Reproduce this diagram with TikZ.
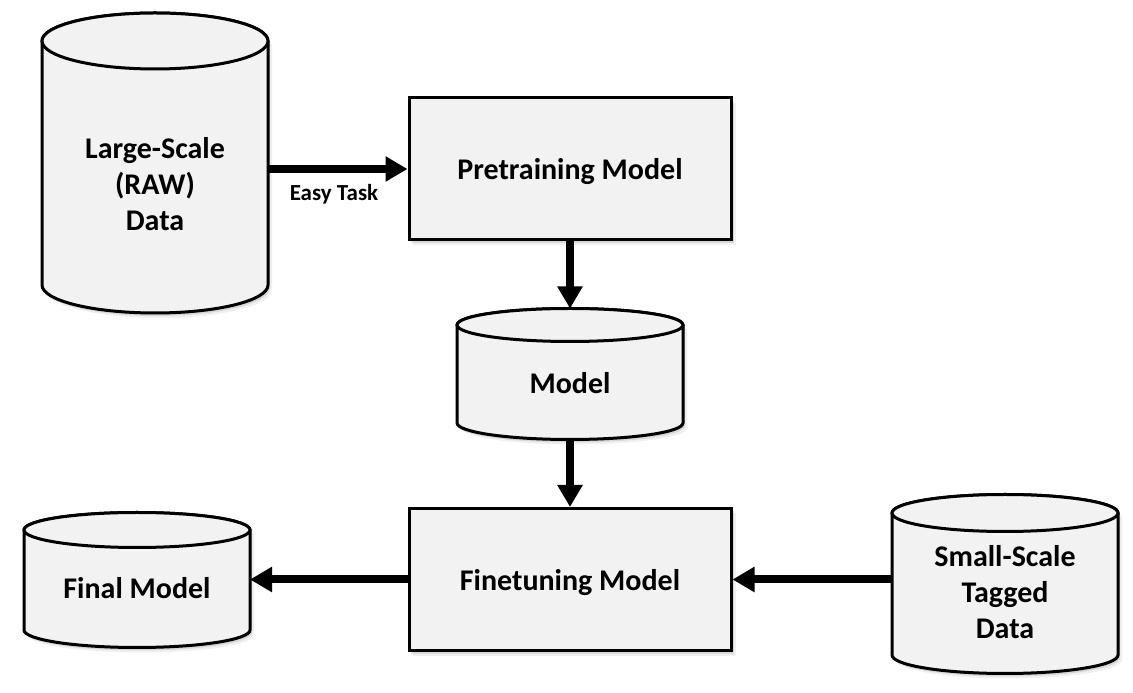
\documentclass[tikz,border=0pt]{standalone}
\usepackage{fontspec}
\setmainfont{Carlito}
\usetikzlibrary{arrows.meta}
\definecolor{boxfill}{RGB}{242,242,242}
\newcommand\cylpath[5]{({#1-#2},#3) -- ({#1-#2},#4) arc[start angle=180,end angle=360,x radius=#2,y radius=#5] -- ({#1+#2},#3) arc[start angle=0,end angle=180,x radius=#2,y radius=#5] -- cycle}
\newcommand\drawcyl[5]{%
  \fill[black,opacity=0.10] [shift={(2,-3)}] \cylpath{#1}{#2}{#3}{#4}{#5};
  \fill[black,opacity=0.06] [shift={(4,-5)}] \cylpath{#1}{#2}{#3}{#4}{#5};
  \draw[shapeline] \cylpath{#1}{#2}{#3}{#4}{#5};
  \draw[shapeline] (#1,#3) ellipse[x radius=#2,y radius=#5];
}
\tikzset{
  shapeline/.style={draw=black,line width=3pt,fill=boxfill},
  procbox/.style={draw=black,line width=3pt,fill=boxfill,minimum width=322pt,minimum height=142pt,inner sep=0pt,
    text depth=0pt,font=\fontsize{30}{36}\selectfont\bfseries},
  cylarea/.style={draw=none,inner sep=0pt,outer sep=0pt},
  cyltext/.style={align=center,font=\fontsize{30}{36}\selectfont\bfseries,inner sep=0pt},
  arr/.style={line width=8pt,-{Triangle[length=22pt,width=24pt]}},
  lbl/.style={font=\fontsize{23}{26}\selectfont\bfseries,inner sep=0pt},
}
\begin{document}
\begin{tikzpicture}[x=1pt,y=1pt]
\useasboundingbox (0,0) rectangle (1133,693);
% cylinders
\drawcyl{155}{113}{652}{408}{28}
\node[cylarea,minimum width=226pt,minimum height=300pt] (big) at (155,530) {};
\node[cyltext] (bigtxt) at (155,509) {Large-Scale\\(RAW)\\Data};

\drawcyl{570}{113}{368}{270}{16.5}
\node[cylarea,minimum width=226pt,minimum height=131pt] (mod) at (570,319) {};
\node[cyltext] (modtxt) at (570,310) {Model};

\drawcyl{137}{113}{163}{63}{17.5}
\node[cylarea,minimum width=226pt,minimum height=135pt] (final) at (137,113) {};
\node[cyltext] (finaltxt) at (137,105) {Final Model};

\drawcyl{1005}{113}{180}{38}{18.5}
\node[cylarea,minimum width=226pt,minimum height=179pt] (small) at (1005,109) {};
\node[cyltext] (smalltxt) at (1005,101) {Small-Scale\\Tagged\\Data};

% boxes with shadows
\fill[black,opacity=0.10] (411,450) rectangle (734,592);
\fill[black,opacity=0.06] (413,448) rectangle (736,590);
\node[procbox] (pre) at (570,524) {Pretraining Model};
\fill[black,opacity=0.10] (411,39) rectangle (734,182);
\fill[black,opacity=0.06] (413,37) rectangle (736,180);
\node[procbox] (fine) at (570,113.5) {Finetuning Model};

% arrows
\draw[arr] (big.east |- pre.west) -- (pre.west);
\node[lbl] (easy) at (334,499) {Easy Task};
\draw[arr] (pre.south) -- (mod.north);
\draw[arr] (mod.south) -- (fine.north);
\draw[arr] (fine.west) -- (final.east |- fine.west);
\draw[arr] (small.west |- fine.east) -- (fine.east);
\end{tikzpicture}
\end{document}
